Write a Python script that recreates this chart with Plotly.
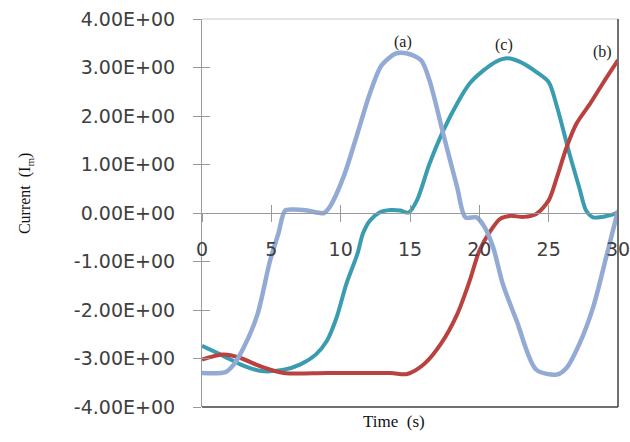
import plotly.graph_objects as go

# ---- data ----
t_a = [0, 1.7, 2.3, 3.0, 4.0, 4.9, 5.5, 6.0, 6.6, 7.6, 8.8, 9.2, 10.2, 11.2, 12.1, 12.96, 14.0, 14.8, 15.8, 16.4, 17.4, 18.4, 19.0, 19.8, 20.4, 21.0, 21.7, 22.7, 24.1, 25.6, 26.3, 27.2, 28.2, 29.2, 30.0]
i_a = [-3.30, -3.28, -3.12, -2.78, -2.09, -0.99, -0.43, 0.05, 0.07, 0.05, 0.0, 0.12, 0.74, 1.63, 2.46, 3.05, 3.29, 3.29, 3.15, 2.74, 1.63, 0.53, -0.09, -0.09, -0.30, -0.71, -1.47, -2.23, -3.23, -3.33, -3.19, -2.71, -1.95, -0.85, 0.05]

t_c = [0, 1.56, 2.76, 4.3, 5.9, 7.1, 8.2, 9.0, 9.7, 10.4, 11.2, 11.6, 12.1, 12.8, 13.6, 14.3, 14.9, 15.5, 16.4, 17.4, 18.4, 19.3, 20.3, 21.2, 22.0, 22.9, 24.1, 25.0, 25.6, 26.5, 27.2, 27.7, 28.2, 29.2, 30.0]
i_c = [-2.74, -2.95, -3.12, -3.26, -3.23, -3.12, -2.92, -2.64, -2.16, -1.47, -0.85, -0.43, -0.16, 0.01, 0.06, 0.05, 0.01, 0.26, 1.01, 1.70, 2.26, 2.67, 2.94, 3.12, 3.19, 3.12, 2.91, 2.70, 2.19, 1.22, 0.53, 0.05, -0.09, -0.06, 0.01]

t_b = [0, 1.56, 2.76, 4.2, 5.9, 9.0, 13.6, 14.8, 16.0, 17.2, 18.4, 19.3, 20.0, 20.8, 21.5, 22.2, 23.2, 24.1, 25.0, 25.6, 26.3, 27.0, 28.0, 28.9, 30.0]
i_b = [-3.02, -2.92, -2.99, -3.16, -3.30, -3.30, -3.30, -3.32, -3.12, -2.71, -2.09, -1.40, -0.78, -0.37, -0.12, -0.06, -0.08, -0.02, 0.26, 0.74, 1.36, 1.84, 2.26, 2.67, 3.15]

y_ticks = [-4, -3, -2, -1, 0, 1, 2, 3, 4]
y_tick_labels = ["-4.00E+00", "-3.00E+00", "-2.00E+00", "-1.00E+00", "0.00E+00",
                 "1.00E+00", "2.00E+00", "3.00E+00", "4.00E+00"]
x_ticks = [0, 5, 10, 15, 20, 25, 30]

labels = ["(a)", "(c)", "(b)"]
label_x = [14.5, 21.8, 28.9]
label_y = [3.53, 3.47, 3.33]

# ---- style ----
C_A = "#93AAD5"
C_C = "#3A9CB0"
C_B = "#B9413F"
AX = "#9A9A9A"
TICKFONT = dict(family="DejaVu Sans", size=19, color="#404040")

fig = go.Figure()
fig.add_trace(go.Scatter(x=t_c, y=i_c, mode="lines",
                         line=dict(color=C_C, width=4, shape="spline", smoothing=0.8),
                         xaxis="x", yaxis="y"))
fig.add_trace(go.Scatter(x=t_b, y=i_b, mode="lines",
                         line=dict(color=C_B, width=4, shape="spline", smoothing=0.8),
                         xaxis="x", yaxis="y"))
fig.add_trace(go.Scatter(x=t_a, y=i_a, mode="lines",
                         line=dict(color=C_A, width=4.5, shape="spline", smoothing=0.8),
                         xaxis="x2", yaxis="y2"))

for txt, lx, ly in zip(labels, label_x, label_y):
    fig.add_annotation(x=lx, y=ly, xref="x", yref="y", text=txt, showarrow=False,
                       font=dict(family="Liberation Serif", size=16, color="#222222"))

fig.add_annotation(x=-0.45, y=0.552, xref="paper", yref="paper",
                   text="Current  (I<sub>m</sub>)", textangle=-90, showarrow=False,
                   font=dict(family="Liberation Serif", size=16, color="#111111"))
fig.add_annotation(x=0.462, y=-0.068, xref="paper", yref="paper",
                   text="Time  (s)", showarrow=False,
                   font=dict(family="Liberation Serif", size=17, color="#111111"))

# frame
fig.add_shape(type="line", xref="paper", yref="paper", x0=0, x1=1, y0=1, y1=1,
              line=dict(color="#C8C8C8", width=1))
fig.add_shape(type="line", xref="paper", yref="paper", x0=1, x1=1, y0=0, y1=1,
              line=dict(color="#707070", width=2))
fig.add_shape(type="line", xref="paper", yref="paper", x0=0, x1=1, y0=0, y1=0,
              line=dict(color="#404040", width=1.5))

common_x = dict(range=[0, 30], showgrid=False, zeroline=False, showline=True,
                linecolor=AX, linewidth=1.2, tickcolor=AX, tickwidth=1.2, ticklen=8,
                tickvals=x_ticks, anchor="free", position=0.5, automargin=False)
common_y = dict(range=[-4, 4], showgrid=False, zeroline=False, showline=True,
                linecolor=AX, linewidth=1.2, tickcolor=AX, tickwidth=1.2, ticklen=8,
                tickvals=y_ticks, automargin=False)

fig.update_layout(
    width=630, height=442,
    margin=dict(l=202, r=12, t=19, b=35, autoexpand=False),
    paper_bgcolor="white", plot_bgcolor="white",
    showlegend=False,
    xaxis=dict(**common_x, ticks="outside", tickfont=TICKFONT, ticklabelstandoff=11,
               ticklabeloverflow="allow"),
    yaxis=dict(**common_y, ticks="outside", ticktext=y_tick_labels, tickfont=TICKFONT,
               ticklabelstandoff=14, ticklabeloverflow="allow"),
    xaxis2=dict(**common_x, ticks="inside", showticklabels=False, overlaying="x"),
    yaxis2=dict(**common_y, ticks="inside", showticklabels=False, overlaying="y"),
)

fig.write_html("out.html")
